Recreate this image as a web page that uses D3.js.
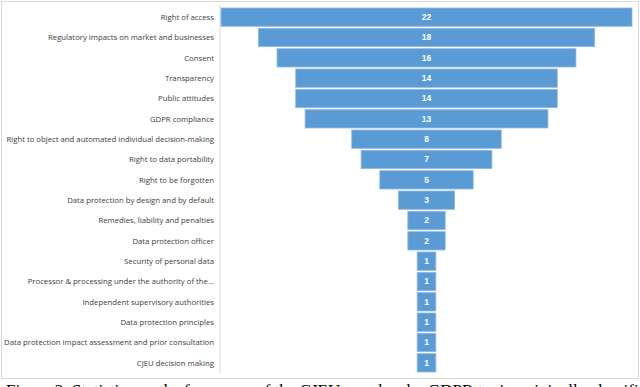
<html>
<head>
<script src="https://cdn.jsdelivr.net/npm/d3@7"></script>
<style>
  body { margin: 0; background: #fff; overflow: hidden; }
  svg { display: block; }
</style>
</head>
<body>
<div id="chart"></div>
<script>
// topics and number of decisions
const topics = [
  "Right of access",
  "Regulatory impacts on market and businesses",
  "Consent",
  "Transparency",
  "Public attitudes",
  "GDPR compliance",
  "Right to object and automated individual decision-making",
  "Right to data portability",
  "Right to be forgotten",
  "Data protection by design and by default",
  "Remedies, liability and penalties",
  "Data protection officer",
  "Security of personal data",
  "Processor & processing under the authority of the...",
  "Independent supervisory authorities",
  "Data protection principles",
  "Data protection impact assessment and prior consultation",
  "CJEU decision making"
];
const counts = [22, 18, 16, 14, 14, 13, 8, 7, 5, 3, 2, 2, 1, 1, 1, 1, 1, 1];
const caption = "Figure 2: Statistics on the frequency of the CJEU case law by GDPR topic, originally classified";

const width = 640, height = 387;
const cx = 426.5;       // funnel centre
const axisX = 220;

const svg = d3.select("#chart").append("svg")
  .attr("width", width)
  .attr("height", height);

// chart frame
svg.append("rect")
  .attr("x", 1.5).attr("y", 1.5)
  .attr("width", 637).attr("height", 377)
  .attr("fill", "#fff")
  .attr("stroke", "#d9d9d9");

const x = d3.scaleLinear().domain([0, d3.max(counts)]).range([0, 411]);
const y = d3.scaleBand().domain(topics).range([7, 373])
  .paddingInner(0.1).paddingOuter(0.05);

// category axis line
svg.append("line")
  .attr("x1", axisX).attr("x2", axisX)
  .attr("y1", 5).attr("y2", 373)
  .attr("stroke", "#d9d9d9");

const data = topics.map((t, i) => ({ topic: t, n: counts[i] }));

svg.append("g")
  .selectAll("rect")
  .data(data)
  .join("rect")
  .attr("x", d => cx - x(d.n) / 2)
  .attr("y", d => y(d.topic))
  .attr("width", d => x(d.n))
  .attr("height", y.bandwidth())
  .attr("fill", "#5b9bd5")
  .attr("stroke", "#8db8e3")
  .attr("stroke-width", 0.8);

svg.append("g")
  .attr("font-family", "Liberation Sans, Arial, sans-serif")
  .attr("font-size", 8.5)
  .attr("font-weight", "bold")
  .attr("fill", "#fff")
  .attr("text-anchor", "middle")
  .selectAll("text")
  .data(data)
  .join("text")
  .attr("x", cx)
  .attr("y", d => y(d.topic) + y.bandwidth() / 2)
  .attr("dy", "0.35em")
  .text(d => d.n);

svg.append("g")
  .attr("font-family", "Open Sans, sans-serif")
  .attr("font-size", 7.75)
  .attr("fill", "#404040")
  .attr("text-anchor", "end")
  .selectAll("text")
  .data(data)
  .join("text")
  .attr("x", 214)
  .attr("y", d => y(d.topic) + y.bandwidth() / 2)
  .attr("dy", "0.35em")
  .text(d => d.topic);

// figure caption, cut off by the bottom of the picture as in the source
svg.append("text")
  .attr("x", 6)
  .attr("y", 396)
  .attr("font-family", "Liberation Serif, serif")
  .attr("font-size", 17)
  .attr("fill", "#000")
  .text(caption);
</script>
</body>
</html>
